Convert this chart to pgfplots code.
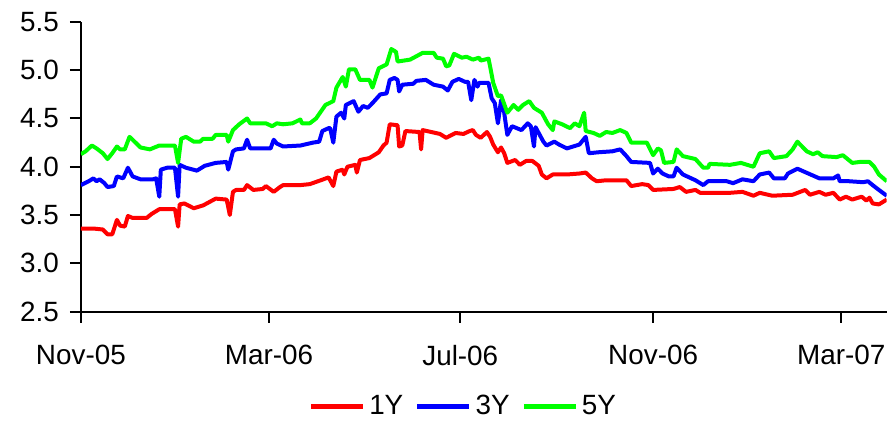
\documentclass[border=0pt]{standalone}
\usepackage{fontspec}
\setmainfont{Liberation Sans}
\usepackage{pgfplots}
\pgfplotsset{compat=1.18}

\definecolor{c1y}{RGB}{255,0,0}
\definecolor{c3y}{RGB}{0,0,255}
\definecolor{c5y}{RGB}{0,255,0}

\begin{document}
\begin{tikzpicture}
\begin{axis}[
    scale only axis,
    width=403.5bp, height=145bp,
    xmin=0, xmax=514,
    ymin=2.5, ymax=5.5,
    axis lines=left,
    axis line style={-, line width=1bp, black},
    tick style={line width=1bp, black},
    tick align=outside,
    major tick length=5.5bp,
    xtick={0,120,242,365,485},
    xticklabels={Nov-05,Mar-06,Jul-06,Nov-06,Mar-07},
    ytick={2.5,3.0,...,5.5},
    /pgf/number format/assume math mode=true,
    tick label style={font=\fontsize{14}{16}\selectfont},
    xticklabel style={yshift=-8bp},
    yticklabel style={/pgf/number format/fixed,
        /pgf/number format/fixed zerofill,
        /pgf/number format/precision=1, xshift=-2bp},
    legend style={
        at={(0.476,-0.328)}, anchor=center,
        draw=none, fill=none,
        legend columns=3,
        font=\fontsize{14}{16}\selectfont,
        /tikz/every even column/.append style={column sep=4bp},
    },
    legend image code/.code={\draw[#1, line width=2.2bp] (0bp,0bp) -- (26bp,0bp);},
    every axis plot/.append style={line width=2bp, line join=round},
]
\addplot[c1y] coordinates {
(0,3.36)(8,3.36)(14,3.35)(17,3.30)(20,3.30)(23,3.45)(25,3.39)(28,3.38)(30,3.49)(33,3.47)
(42,3.47)(45,3.51)(50,3.56)(60,3.56)(62,3.38)(63,3.61)(66,3.62)(72,3.57)(78,3.60)(86,3.67)
(93,3.66)(95,3.50)(97,3.74)(99,3.76)(104,3.76)(106,3.81)(110,3.76)(116,3.77)(118,3.80)(123,3.74)
(127,3.79)(129,3.81)(140,3.81)(146,3.82)(153,3.86)(158,3.89)(161,3.80)(163,3.95)(167,3.97)(168,3.92)
(170,4.00)(175,4.02)(176,3.94)(178,4.07)(184,4.09)(190,4.15)(193,4.22)(195,4.25)(197,4.44)(202,4.43)
(203,4.21)(205,4.22)(207,4.37)(216,4.36)(217,4.18)(218,4.38)(229,4.34)(233,4.30)(239,4.35)(244,4.34)
(248,4.37)(250,4.38)(252,4.33)(255,4.30)(259,4.36)(261,4.31)(263,4.23)(266,4.15)(268,4.20)(270,4.14)
(272,4.04)(277,4.07)(280,4.02)(284,4.06)(288,4.06)(292,4.01)(294,3.92)(297,3.88)(301,3.92)(310,3.92)
(318,3.93)(322,3.94)(326,3.88)(329,3.85)(335,3.86)(348,3.86)(351,3.80)(358,3.82)(362,3.81)(365,3.76)
(378,3.77)(382,3.79)(386,3.74)(392,3.76)(395,3.73)(414,3.73)(422,3.74)(429,3.70)(433,3.73)(441,3.70)
(454,3.71)(462,3.76)(465,3.71)(471,3.74)(475,3.71)(480,3.73)(484,3.66)(488,3.69)(492,3.66)(498,3.69)
(501,3.65)(503,3.68)(505,3.62)(509,3.61)(514,3.66)
};
\addlegendentry{1Y}
\addplot[c3y] coordinates {
(0,3.81)(5,3.85)(8,3.88)(10,3.85)(12,3.87)(15,3.83)(17,3.79)(21,3.80)(23,3.90)(27,3.88)
(30,3.99)(33,3.90)(38,3.87)(46,3.87)(48,3.88)(50,3.69)(51,3.97)(55,3.99)(60,3.99)(62,3.69)
(63,4.02)(67,3.99)(74,3.96)(79,4.01)(86,4.04)(93,4.05)(94,3.97)(97,4.16)(99,4.18)(104,4.19)
(106,4.28)(108,4.19)(118,4.19)(121,4.19)(123,4.28)(125,4.24)(129,4.21)(140,4.22)(148,4.25)(152,4.26)
(154,4.37)(158,4.40)(159,4.40)(161,4.25)(163,4.52)(166,4.56)(168,4.50)(169,4.64)(174,4.68)(177,4.57)
(180,4.63)(183,4.61)(186,4.66)(191,4.75)(195,4.76)(197,4.90)(200,4.92)(202,4.90)(203,4.78)(205,4.85)
(212,4.86)(214,4.89)(220,4.90)(225,4.85)(231,4.83)(234,4.79)(237,4.88)(241,4.91)(245,4.88)(247,4.88)
(249,4.69)(251,4.90)(253,4.83)(254,4.87)(260,4.87)(262,4.71)(264,4.66)(266,4.45)(268,4.69)(270,4.56)
(272,4.33)(275,4.42)(281,4.38)(285,4.45)(287,4.42)(289,4.21)(290,4.41)(295,4.26)(297,4.22)(302,4.26)
(305,4.23)(310,4.19)(318,4.23)(322,4.31)(324,4.14)(330,4.15)(339,4.16)(344,4.18)(348,4.11)(351,4.05)
(363,4.04)(365,3.93)(368,3.98)(371,3.93)(375,3.90)(378,3.90)(380,3.99)(384,3.92)(392,3.86)(397,3.81)
(400,3.85)(412,3.85)(416,3.83)(422,3.87)(429,3.85)(433,3.92)(439,3.94)(442,3.88)(449,3.88)(451,3.93)
(457,3.98)(464,3.93)(471,3.88)(480,3.88)(483,3.91)(484,3.85)(490,3.85)(499,3.84)(502,3.85)(505,3.81)
(509,3.76)(514,3.70)
};
\addlegendentry{3Y}
\addplot[c5y] coordinates {
(0,4.13)(3,4.16)(7,4.22)(10,4.19)(14,4.14)(17,4.08)(20,4.14)(23,4.21)(25,4.18)(28,4.18)
(31,4.31)(33,4.28)(38,4.20)(44,4.18)(50,4.22)(60,4.22)(62,4.04)(64,4.29)(67,4.31)(72,4.26)
(76,4.26)(78,4.29)(84,4.29)(86,4.33)(93,4.33)(94,4.26)(97,4.38)(101,4.44)(106,4.50)(108,4.45)
(118,4.45)(122,4.42)(125,4.45)(129,4.44)(135,4.45)(140,4.49)(141,4.45)(146,4.45)(150,4.50)(156,4.64)
(161,4.68)(163,4.82)(167,4.93)(169,4.83)(171,5.01)(175,5.01)(178,4.90)(184,4.90)(186,4.82)(190,5.02)
(195,5.06)(198,5.22)(201,5.19)(202,5.09)(210,5.11)(218,5.18)(225,5.18)(227,5.13)(231,5.12)(233,5.04)
(235,5.05)(238,5.17)(243,5.13)(246,5.14)(250,5.11)(254,5.13)(255,5.10)(260,5.12)(261,5.04)(263,4.87)
(266,4.73)(268,4.74)(272,4.56)(276,4.64)(279,4.59)(282,4.64)(286,4.68)(289,4.61)(294,4.56)(298,4.44)
(301,4.38)(302,4.47)(307,4.44)(312,4.40)(315,4.45)(318,4.42)(321,4.56)(322,4.37)(327,4.35)(331,4.32)
(335,4.36)(339,4.35)(344,4.38)(348,4.35)(351,4.25)(361,4.25)(365,4.12)(368,4.19)(370,4.17)(372,4.04)
(378,4.05)(380,4.18)(384,4.11)(392,4.08)(397,3.99)(400,3.99)(401,4.03)(414,4.02)(421,4.04)(429,4.00)
(433,4.14)(439,4.16)(442,4.09)(450,4.11)(454,4.18)(457,4.26)(463,4.16)(467,4.13)(470,4.15)(473,4.11)
(482,4.10)(486,4.12)(492,4.04)(497,4.05)(503,4.05)(506,4.00)(509,3.92)(514,3.85)
};
\addlegendentry{5Y}
\end{axis}
\path (current axis.south west) ++(-40.5bp,-55bp) rectangle ++(446bp,211bp);
\end{tikzpicture}
\end{document}
